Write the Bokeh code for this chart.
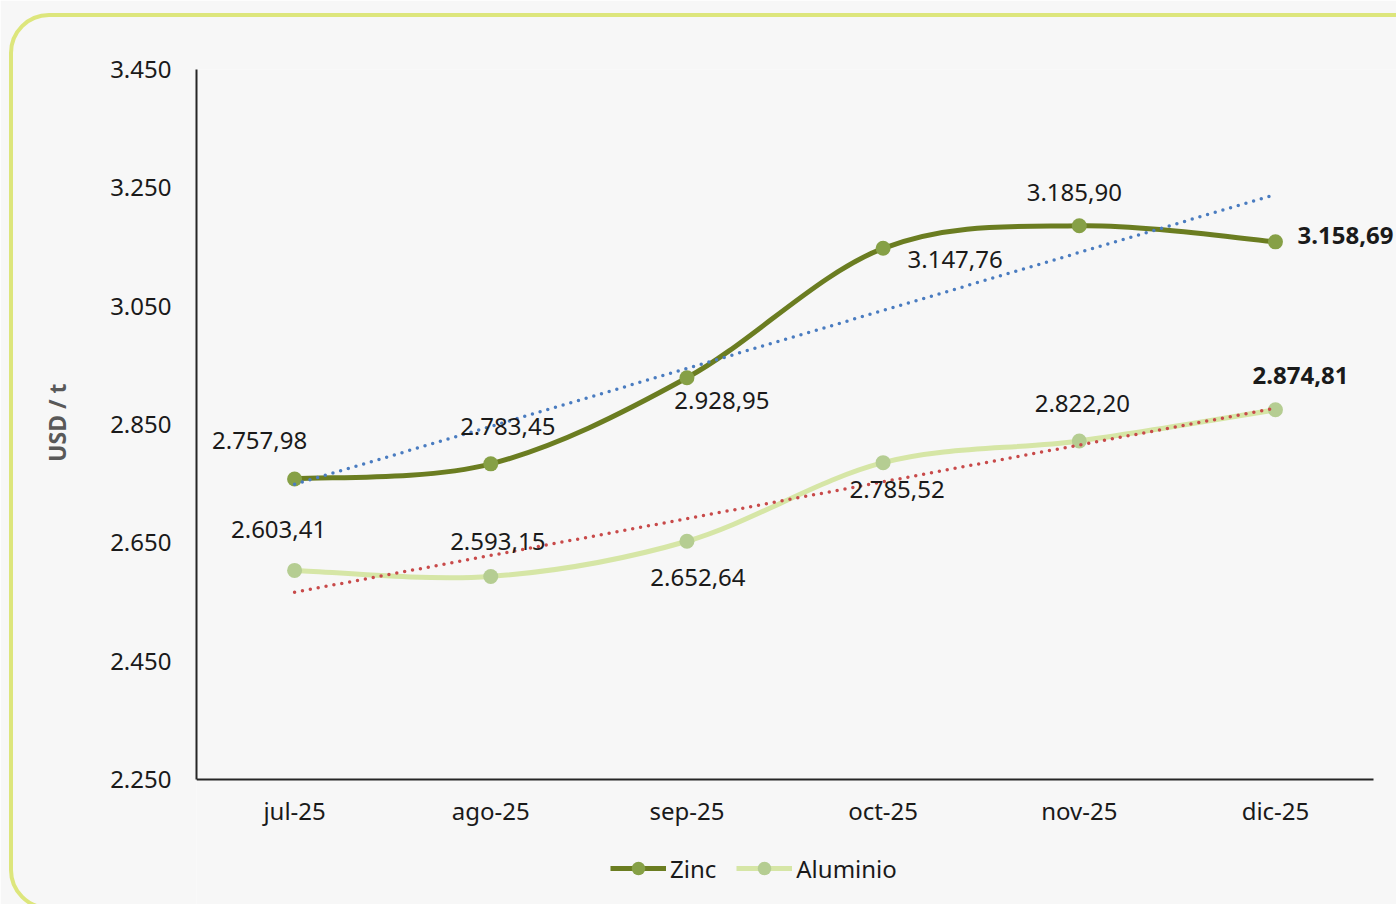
from bokeh.plotting import figure
from bokeh.models import (ColumnDataSource, Range1d, Legend, LegendItem, FixedTicker,
                          CustomJSTickFormatter, InlineStyleSheet, Title)
from bokeh.core.properties import value
from bokeh.embed import file_html
from bokeh.resources import INLINE

# ---------------- data ----------------
months = ["jul-25", "ago-25", "sep-25", "oct-25", "nov-25", "dic-25"]
zinc = [2757.98, 2783.45, 2928.95, 3147.76, 3185.90, 3158.69]
aluminio = [2603.41, 2593.15, 2652.64, 2785.52, 2822.20, 2874.81]
zinc_trend = [2748.8, 3238.7]      # linear trend at first and last month
alu_trend = [2566.5, 2877.5]
y_ticks = [2250, 2450, 2650, 2850, 3050, 3250, 3450]

# ---------------- styles ----------------
FONT = "Noto Sans"
BG = "#f7f7f7"
TXT = "#1a1a1a"
ZINC_LINE, ZINC_MARK = "#6b7d21", "#86a046"
ALU_LINE, ALU_MARK = "#d6e6a6", "#b5cd92"
Y_MIN, Y_MAX = 2250, 3450
Y_VIEW_MIN = 2038.7                # extra room below the axis for tick labels + legend

# data-label offsets in screen pixels (x right, y down)
zinc_dx = [-35, 17, 35, 72, -5, 70]
zinc_dy = [-38, -37, 23, 11, -33, -6]
alu_dx = [-16, 7, 11, 14, 3, 25]
alu_dy = [-41, -35, 36, 27, -37, -34]
zinc_bold = [False, False, False, False, False, True]
alu_bold = [False, False, False, False, False, True]

xpos = list(range(len(months)))    # category slots on the axis


def fmt(v):
    s = f"{v:,.2f}"
    return s.replace(",", "X").replace(".", ",").replace("X", ".")


def smooth_segments(vals):
    """Bezier control points of Excel-like smoothed (Catmull-Rom) line."""
    n = len(vals)
    d = dict(x0=[], y0=[], x1=[], y1=[], cx0=[], cy0=[], cx1=[], cy1=[])
    for i in range(n - 1):
        im1, ip2 = max(i - 1, 0), min(i + 2, n - 1)
        d["x0"].append(xpos[i]); d["y0"].append(vals[i])
        d["x1"].append(xpos[i + 1]); d["y1"].append(vals[i + 1])
        d["cx0"].append(xpos[i] + (xpos[i + 1] - xpos[im1]) / 6.0)
        d["cy0"].append(vals[i] + (vals[i + 1] - vals[im1]) / 6.0)
        d["cx1"].append(xpos[i + 1] - (xpos[ip2] - xpos[i]) / 6.0)
        d["cy1"].append(vals[i + 1] - (vals[ip2] - vals[i]) / 6.0)
    return d


W, H = 1396, 904
card = InlineStyleSheet(css="""
:host { position: relative; overflow: hidden; }
:host::after { content: ""; position: absolute; left: 9px; top: 13px; width: 1500px;
  height: 897px; box-sizing: border-box; border: 4px solid #dde67c;
  border-radius: 40px; pointer-events: none; }
""")

p = figure(width=W, height=H, x_range=Range1d(-0.5, 5.617), y_range=Range1d(Y_VIEW_MIN, Y_MAX),
           output_backend="svg", toolbar_location=None,
           min_border_left=196, min_border_right=0, min_border_top=69, min_border_bottom=0,
           background_fill_color=BG, border_fill_color=BG, stylesheets=[card])
p.outline_line_color = None
p.grid.visible = False

for ax in (p.xaxis[0], p.yaxis[0]):
    ax.axis_line_color = "#262626"
    ax.axis_line_width = 2
    ax.major_tick_line_color = None
    ax.minor_tick_line_color = None
    ax.major_tick_out = 0
    ax.major_label_text_font = FONT
    ax.major_label_text_font_size = "24px"
    ax.major_label_text_color = TXT
p.xaxis.ticker = FixedTicker(ticks=xpos)
p.xaxis.major_label_overrides = {i: m for i, m in zip(xpos, months)}
p.xaxis.bounds = (-0.5, 5.5)
p.xaxis.fixed_location = Y_MIN
p.xaxis.major_label_standoff = 15
p.yaxis.ticker = FixedTicker(ticks=y_ticks)
p.yaxis.bounds = (Y_MIN, Y_MAX)
p.yaxis.formatter = CustomJSTickFormatter(code="return tick.toLocaleString('de-DE');")
p.yaxis.major_label_standoff = 25

# y-axis title, centred on the drawn axis (not the whole frame)
p.add_layout(Title(text="USD / t", align="right", offset=314, standoff=70,
                   vertical_align="bottom", text_font=FONT, text_font_style="bold",
                   text_font_size="23px", text_color="#595959"), "left")

# smoothed lines
r_alu_line = p.bezier(x0="x0", y0="y0", x1="x1", y1="y1", cx0="cx0", cy0="cy0",
                      cx1="cx1", cy1="cy1", source=ColumnDataSource(smooth_segments(aluminio)),
                      line_color=ALU_LINE, line_width=5)
r_zinc_line = p.bezier(x0="x0", y0="y0", x1="x1", y1="y1", cx0="cx0", cy0="cy0",
                       cx1="cx1", cy1="cy1", source=ColumnDataSource(smooth_segments(zinc)),
                       line_color=ZINC_LINE, line_width=5)

zsrc = ColumnDataSource(dict(x=xpos, y=zinc, lab=[fmt(v) for v in zinc], dx=zinc_dx,
                             dy=zinc_dy, st=["bold" if b else "normal" for b in zinc_bold]))
asrc = ColumnDataSource(dict(x=xpos, y=aluminio, lab=[fmt(v) for v in aluminio], dx=alu_dx,
                             dy=alu_dy, st=["bold" if b else "normal" for b in alu_bold]))
r_alu_pts = p.scatter("x", "y", source=asrc, size=15, fill_color=ALU_MARK, line_color=None)
r_zinc_pts = p.scatter("x", "y", source=zsrc, size=15, fill_color=ZINC_MARK, line_color=None)

# linear trend lines
p.line([xpos[0], xpos[-1]], zinc_trend, line_color="#4a7cc0", line_width=3.5,
       line_dash="0 8", line_cap="round")
p.line([xpos[0], xpos[-1]], alu_trend, line_color="#c84a4a", line_width=3.5,
       line_dash="0 8", line_cap="round")

for src in (zsrc, asrc):
    p.text("x", "y", text="lab", source=src, x_offset="dx", y_offset="dy",
           text_font=value(FONT), text_font_size="24px", text_color=TXT,
           text_font_style="st", text_align="center", text_baseline="middle")

legend = Legend(items=[LegendItem(label="Zinc", renderers=[r_zinc_line, r_zinc_pts]),
                       LegendItem(label="Aluminio", renderers=[r_alu_line, r_alu_pts])],
                orientation="horizontal", location=(414, 19),
                glyph_width=56, glyph_height=34, label_standoff=4, spacing=20,
                padding=0, margin=0, border_line_color=None, background_fill_alpha=0,
                label_text_font=FONT, label_text_font_size="24px", label_text_color=TXT)
p.add_layout(legend, "center")

open("out.html", "w").write(file_html(p, INLINE))
